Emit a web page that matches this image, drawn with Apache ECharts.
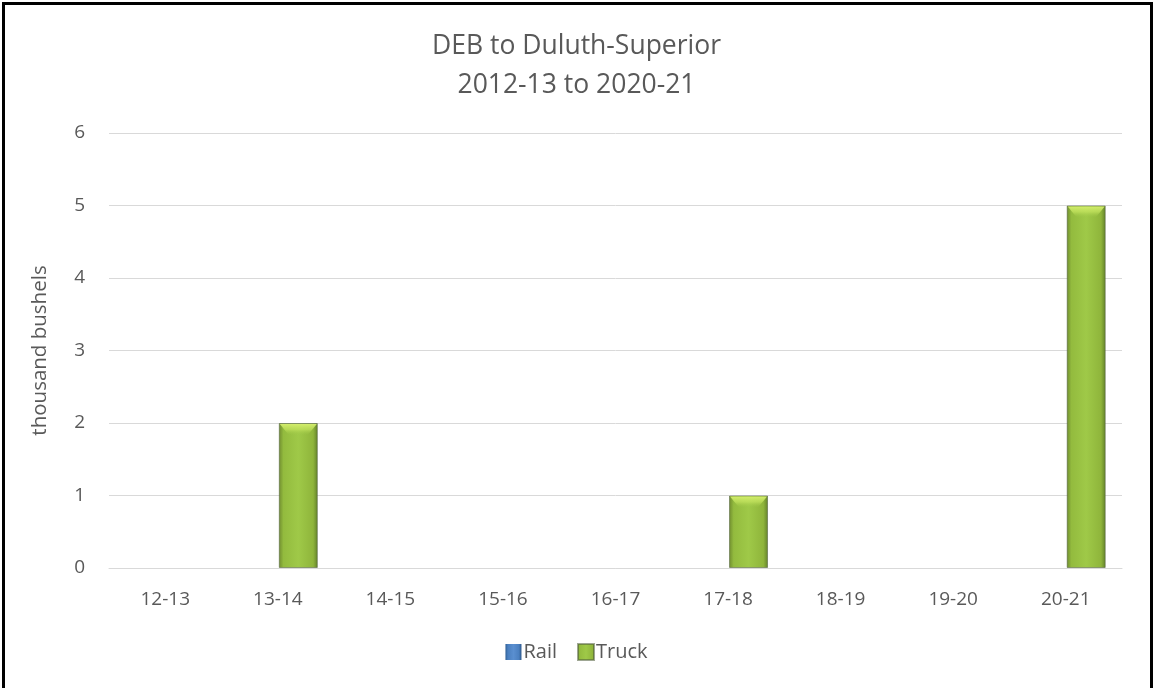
<!DOCTYPE html>
<html>
<head>
<meta charset="utf-8">
<script src="https://cdn.jsdelivr.net/npm/echarts@6/dist/echarts.min.js"></script>
<style>
  html, body { margin: 0; padding: 0; background: #fff; overflow: hidden; }
  #frame {
    position: absolute; left: 2px; top: 2px; width: 1145px; height: 700px;
    border: 3px solid #000; box-sizing: content-box;
  }
  #chart { position: absolute; left: 0; top: 0; width: 1153px; height: 688px; }
</style>
</head>
<body>
<div id="frame"></div>
<div id="chart"></div>
<script>
// Crop years (marketing years) shown on the category axis
const seasons = ['12-13', '13-14', '14-15', '15-16', '16-17', '17-18', '18-19', '19-20', '20-21'];
// Shipments by mode, thousand bushels
const railValues = [0, 0, 0, 0, 0, 0, 0, 0, 0];
const truckValues = [0, 2, 0, 0, 0, 1, 0, 0, 5];
// Value axis ticks
const yTicks = [0, 1, 2, 3, 4, 5, 6];

const textColor = '#595959';
const fontFamily = '"Open Sans", "Liberation Sans", sans-serif';
const BAR_W = 39;
const BAR_GAP = 0.05;

const railFill = new echarts.graphic.LinearGradient(0, 0, 1, 0, [
  { offset: 0, color: '#2f5f95' },
  { offset: 0.15, color: '#4a7fbf' },
  { offset: 0.5, color: '#5a8fd0' },
  { offset: 0.85, color: '#4a7fbf' },
  { offset: 1, color: '#2a5487' }
]);
const truckFill = new echarts.graphic.LinearGradient(0, 0, 1, 0, [
  { offset: 0, color: '#6f8c2f' },
  { offset: 0.12, color: '#93bb3e' },
  { offset: 0.5, color: '#9fc948' },
  { offset: 0.88, color: '#8fb53b' },
  { offset: 1, color: '#62802a' }
]);

// Bevel highlight across the top of each truck bar
function renderBevel(params, api) {
  const v = api.value(1);
  if (!v) return null;
  const top = api.coord([api.value(0), v]);
  const cx = top[0] + (BAR_W * (1 + BAR_GAP)) / 2;
  const x0 = cx - BAR_W / 2 + 1;
  const x1 = cx + BAR_W / 2 - 1;
  const y0 = top[1] + 1;
  return {
    type: 'polygon',
    shape: { points: [[x0, y0], [x1, y0], [x1 - 9, y0 + 11], [x0 + 9, y0 + 11]] },
    style: {
      fill: new echarts.graphic.LinearGradient(0, 0, 0, 1, [
        { offset: 0, color: 'rgba(214,240,110,0.95)' },
        { offset: 0.5, color: 'rgba(196,228,95,0.7)' },
        { offset: 1, color: 'rgba(160,201,72,0)' }
      ])
    },
    silent: true
  };
}

const chart = echarts.init(document.getElementById('chart'), null, { renderer: 'canvas' });

chart.setOption({
  backgroundColor: 'transparent',
  animation: false,
  title: {
    text: 'DEB to Duluth-Superior\n2012-13 to 2020-21',
    left: 'center',
    top: 22,
    textStyle: {
      color: textColor,
      fontFamily: fontFamily,
      fontSize: 26.5,
      fontWeight: 'normal',
      lineHeight: 39
    }
  },
  legend: {
    bottom: 21,
    left: 'center',
    icon: 'rect',
    itemWidth: 16,
    itemHeight: 16,
    itemGap: 20,
    textStyle: { color: textColor, fontFamily: fontFamily, fontSize: 20, padding: [0, 0, 0, -3] },
    data: ['Rail', 'Truck']
  },
  grid: { left: 109, right: 31, top: 133, bottom: 120 },
  xAxis: {
    type: 'category',
    data: seasons,
    axisLine: { show: true, lineStyle: { color: '#d9d9d9', width: 1 } },
    axisTick: { show: false },
    axisLabel: { color: textColor, fontFamily: fontFamily, fontSize: 19, margin: 22 }
  },
  yAxis: {
    type: 'value',
    min: yTicks[0],
    max: yTicks[yTicks.length - 1],
    interval: 1,
    name: 'thousand bushels',
    nameLocation: 'middle',
    nameGap: 58,
    nameTextStyle: { color: textColor, fontFamily: fontFamily, fontSize: 20.5 },
    axisLine: { show: false },
    axisTick: { show: false },
    axisLabel: { color: textColor, fontFamily: fontFamily, fontSize: 19, margin: 24 },
    splitLine: { lineStyle: { color: '#d9d9d9', width: 1 } }
  },
  series: [
    {
      name: 'Rail',
      type: 'bar',
      barWidth: BAR_W,
      barGap: (BAR_GAP * 100) + '%',
      itemStyle: { color: railFill },
      data: railValues
    },
    {
      name: 'Truck',
      type: 'bar',
      barWidth: BAR_W,
      barGap: (BAR_GAP * 100) + '%',
      itemStyle: { color: truckFill, borderColor: 'rgba(80,95,60,0.55)', borderWidth: 1 },
      data: truckValues.map(v => v === 0 ? { value: v, itemStyle: { borderWidth: 0 } } : v)
    },
    {
      name: 'TruckBevel',
      type: 'custom',
      renderItem: renderBevel,
      z: 5,
      silent: true,
      data: truckValues.map((v, i) => [i, v])
    }
  ]
});
</script>
</body>
</html>
